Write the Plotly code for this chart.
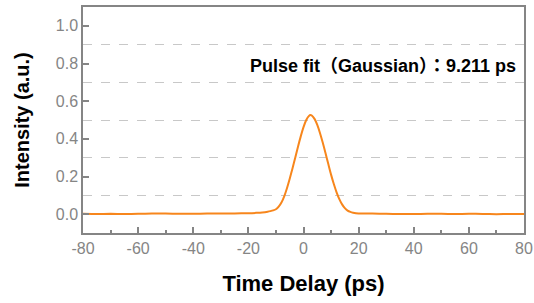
import plotly.graph_objects as go

# Time delay (ps) and intensity (a.u.)
time_ps = [-80, -75, -70, -65, -60, -55, -50, -45, -40, -35, -30, -25, -20, -17, -15, -13, -12, -11,
           -10, -9, -8, -7, -6, -5, -4, -3, -2, -1, 0, 1, 2, 2.5, 3, 4, 5, 6, 7, 8, 9, 10,
           11, 12, 13, 14, 15, 16, 17, 18, 20, 25, 30, 35, 40, 45, 50, 55, 60, 65, 70, 75, 80]
intensity = [0.002, 0.001, 0.002, 0.001, 0.002, 0.003, 0.003, 0.002, 0.002, 0.003, 0.003, 0.004, 0.005, 0.007, 0.009, 0.013, 0.016, 0.020,
             0.026, 0.040, 0.062, 0.095, 0.138, 0.188, 0.243, 0.300, 0.358, 0.413, 0.462, 0.500, 0.522, 0.527, 0.524, 0.506, 0.474, 0.430, 0.379, 0.323, 0.266, 0.210,
             0.160, 0.116, 0.080, 0.052, 0.032, 0.019, 0.012, 0.008, 0.004, 0.003, 0.002, 0.001, 0.001, 0.002, 0.002, 0.001, 0.002, 0.001, 0.000, 0.001, 0.001]

x_tick_vals = [-80, -60, -40, -20, 0, 20, 40, 60, 80]
x_tick_text = ["-80", "-60", "-40", "-20", "0", "20", "40", "60", "80"]
y_tick_vals = [0.0, 0.2, 0.4, 0.6, 0.8, 1.0]
y_tick_text = ["0.0", "0.2", "0.4", "0.6", "0.8", "1.0"]

cjk = "<span style=\"font-family:'Noto Sans CJK JP'\">%s</span>"
annotation_html = ("<b>Pulse fit" + cjk % "\uff08" + "Gaussian" + cjk % "\uff09" +
                   cjk % "\uff1a" + "9.211 ps</b>")

fig = go.Figure()
fig.add_trace(go.Scatter(x=time_ps, y=intensity, mode="lines",
                         line=dict(color="#F7861C", width=2, shape="spline", smoothing=0.6),
                         showlegend=False, hoverinfo="skip"))

grey = "#858585"
fig.update_layout(
    width=534, height=303, autosize=False,
    margin=dict(l=83, r=10, t=7, b=70),
    paper_bgcolor="white", plot_bgcolor="white",
    font=dict(family="Liberation Sans, Arial, sans-serif"),
    xaxis=dict(
        range=[-80, 80], tickmode="array", tickvals=x_tick_vals, ticktext=x_tick_text,
        ticks="inside", ticklen=6, tickwidth=1.5, tickcolor=grey,
        minor=dict(dtick=10, tick0=-80, ticks="inside", ticklen=3, tickwidth=1.5, tickcolor=grey, showgrid=False),
        showgrid=False, zeroline=False, automargin=False,
        showline=True, linecolor=grey, linewidth=1.5, mirror=True,
        tickfont=dict(size=16, color=grey),
        title=dict(text="<b>Time Delay (ps)</b>", font=dict(size=22, color="black"), standoff=20),
    ),
    yaxis=dict(
        range=[-0.1, 1.1], tickmode="array", tickvals=y_tick_vals, ticktext=y_tick_text,
        ticks="inside", ticklen=6, tickwidth=1.5, tickcolor=grey,
        showgrid=False, zeroline=False, automargin=False,
        minor=dict(tick0=0.1, dtick=0.2, showgrid=True, gridcolor="#c8c8c8",
                   griddash="dash", gridwidth=1, ticks=""),
        showline=True, linecolor=grey, linewidth=1.5, mirror=True,
        tickfont=dict(size=16, color=grey),
        title=dict(text="<b>Intensity (a.u.)</b>", font=dict(size=20, color="black"), standoff=21),
    ),
)
fig.add_annotation(
    text=annotation_html,
    x=1, xref="paper", xanchor="right", xshift=-6,
    y=0.8, yref="y", yanchor="middle",
    showarrow=False,
    font=dict(size=18, color="black", family="Liberation Sans, Arial, sans-serif"),
)

fig.write_html("out.html", config={"responsive": False, "displayModeBar": False},
               post_script="document.body.style.margin='0';document.body.style.padding='0';")
